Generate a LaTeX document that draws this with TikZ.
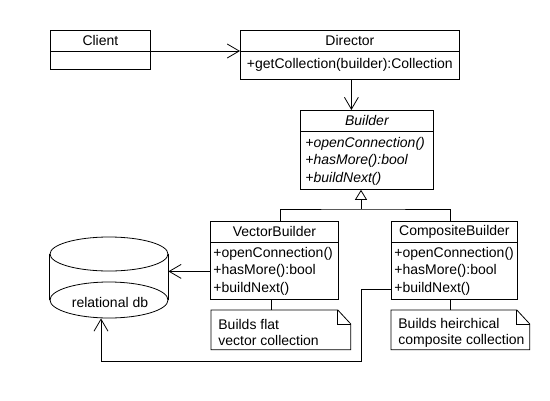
\documentclass[tikz,border=0pt]{standalone}
\usepackage{fontspec}
\setmainfont{Liberation Sans}
\usepackage{tikz}
\usetikzlibrary{arrows.meta}

\begin{document}
\begin{tikzpicture}[x=1pt, y=-1pt, line width=0.8pt,
                    box/.style={draw, anchor=north west, inner sep=0pt},
                    title/.style={inner sep=0pt, font=\fontsize{14}{16}\selectfont},
                    ops/.style={anchor=west, align=left, inner sep=0pt,
                                font=\fontsize{14}{17.5}\selectfont},
                    memo/.style={anchor=north west, inner sep=0pt},
                    memotext/.style={anchor=west, align=left, inner sep=0pt,
                                     font=\fontsize{14}{16}\selectfont},
                    assoc/.style={-{Straight Barb[length=12pt,width=14pt]}},
                    inherit/.style={-{Triangle[open,length=10pt,width=12pt]}}]
    \useasboundingbox (0,0) rectangle (550,400);

    % client
    \node[box, minimum width=100pt, minimum height=39pt] (client) at (50,30) {};
    \draw ([yshift=-21pt]client.north west) -- ([yshift=-21pt]client.north east);
    \node[title] (clientT) at ([yshift=-10.5pt]client.north) {Client};

    % director
    \node[box, minimum width=219pt, minimum height=49pt] (director) at (240,30) {};
    \draw ([yshift=-21pt]director.north west) -- ([yshift=-21pt]director.north east);
    \node[title] (directorT) at ([yshift=-10.5pt]director.north) {Director};
    \node[title] (directorOp) at ([yshift=-35pt]director.north)
        {+getCollection(builder):Collection};

    % builder (abstract)
    \node[box, minimum width=133pt, minimum height=79pt] (builder) at (300,110) {};
    \draw ([yshift=-21pt]builder.north west) -- ([yshift=-21pt]builder.north east);
    \node[title, font=\fontsize{14}{16}\selectfont\itshape] (builderT)
        at ([yshift=-10.5pt]builder.north) {Builder};
    \node[ops, font=\fontsize{14}{17.5}\selectfont\itshape] (builderOps)
        at ([xshift=5pt, yshift=-51pt]builder.north west)
        {+openConnection()\\+hasMore():bool\\+buildNext()};

    % vector builder
    \node[box, minimum width=128pt, minimum height=78pt] (vb) at (210,221) {};
    \draw ([yshift=-21pt]vb.north west) -- ([yshift=-21pt]vb.north east);
    \node[title] (vbT) at ([yshift=-10.5pt]vb.north) {VectorBuilder};
    \node[ops] (vbOps) at ([xshift=3pt, yshift=-50pt]vb.north west)
        {+openConnection()\\+hasMore():bool\\+buildNext()};

    % composite builder
    \node[box, minimum width=126pt, minimum height=78pt] (cb) at (391,221) {};
    \draw ([yshift=-21pt]cb.north west) -- ([yshift=-21pt]cb.north east);
    \node[title] (cbT) at ([yshift=-10.5pt]cb.north) {CompositeBuilder};
    \node[ops] (cbOps) at ([xshift=3pt, yshift=-50pt]cb.north west)
        {+openConnection()\\+hasMore():bool\\+buildNext()};

    % notes
    \node[memo, minimum width=139pt, minimum height=39pt] (vbNote) at (211,310) {};
    \draw (vbNote.north west) -- ([xshift=-13pt]vbNote.north east)
        -- ([yshift=-14pt]vbNote.north east) -- (vbNote.south east)
        -- (vbNote.south west) -- cycle;
    \draw ([xshift=-13pt]vbNote.north east) |- ([yshift=-14pt]vbNote.north east);
    \node[memotext] (vbNoteT) at ([xshift=7pt, yshift=-2.5pt]vbNote.west)
        {Builds flat\\vector collection};

    \node[memo, minimum width=138pt, minimum height=39pt] (cbNote) at (391,310) {};
    \draw (cbNote.north west) -- ([xshift=-13pt]cbNote.north east)
        -- ([yshift=-14pt]cbNote.north east) -- (cbNote.south east)
        -- (cbNote.south west) -- cycle;
    \draw ([xshift=-13pt]cbNote.north east) |- ([yshift=-14pt]cbNote.north east);
    \node[memotext] (cbNoteT) at ([xshift=7pt, yshift=-2.5pt]cbNote.west)
        {Builds heirchical\\composite collection};

    % database
    \node[inner sep=0pt, minimum width=118pt, minimum height=81pt] (db) at (109,277.5) {};
    \draw (109,254) ellipse [x radius=59pt, y radius=17pt];
    \draw (109,300) ellipse [x radius=59pt, y radius=18pt];
    \draw (db.west |- 0,254) -- (db.west |- 0,300);
    \draw (db.east |- 0,254) -- (db.east |- 0,300);
    \node[title] (dbT) at (110,302) {relational db};

    % connectors
    \draw[assoc] ([yshift=-21pt]client.north east) -- ([yshift=-21pt]director.north west);
    \draw[assoc] ([xshift=1.5pt]director.south) coordinate (dirfoot)
        -- (dirfoot |- builder.north);

    \coordinate (gen) at (361,209);
    \draw[inherit] (gen) -- (gen |- builder.south);
    \draw ([xshift=6pt]vb.north) |- (gen) -| ([xshift=-4pt]cb.north);

    \draw[assoc] ([yshift=-11pt]vb.west) coordinate (vbleft) -- (db.east |- vbleft);
    \coordinate (turn) at (361,361);
    \draw[assoc] ([yshift=-29pt]cb.west) -| (turn) -| ([xshift=-8pt]db.south);

    \draw ([xshift=-3pt]vb.south) coordinate (vbfoot) -- (vbfoot |- vbNote.north);
    \draw ([xshift=-4pt]cb.south) coordinate (cbfoot) -- (cbfoot |- cbNote.north);
\end{tikzpicture}
\end{document}
